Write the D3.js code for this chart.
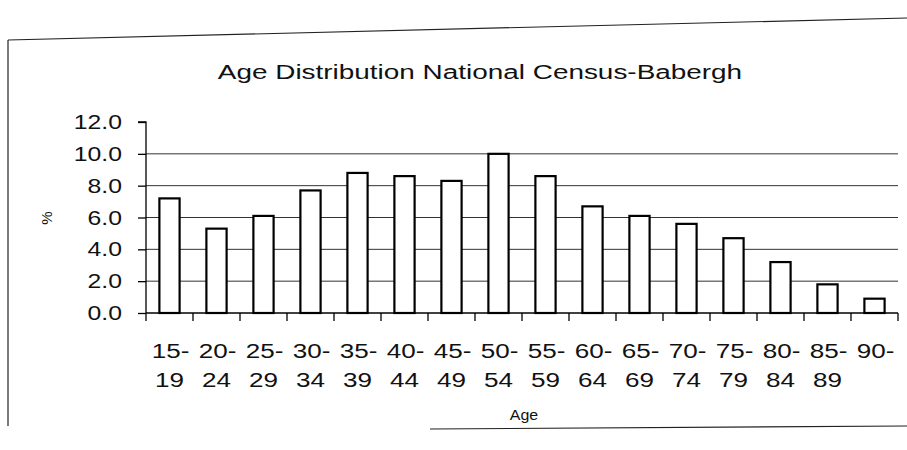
<!DOCTYPE html>
<html><head><meta charset="utf-8">
<script src="https://cdn.jsdelivr.net/npm/d3@7"></script>
<style>body{margin:0;background:#fff}svg{display:block}text{font-family:"Liberation Sans",Arial,sans-serif;fill:#111}</style>
</head><body><svg id="c" width="907" height="450"></svg>
<script>
const categories = ["15-19","20-24","25-29","30-34","35-39","40-44","45-49","50-54","55-59","60-64","65-69","70-74","75-79","80-84","85-89","90-"];
const values = [7.2,5.3,6.1,7.7,8.8,8.6,8.3,10.0,8.6,6.7,6.1,5.6,4.7,3.2,1.8,0.9];
const yTicks = [0,2,4,6,8,10,12];
const title = "Age Distribution National Census-Babergh";
const xTitle = "Age", yTitle = "%";

const svg = d3.select("#c");
const SX = 1.27;
function stretchedText(g, x0, y0, txt, size, anchor, sx){
  return g.append("g").attr("transform",`translate(${x0},${y0}) scale(${sx||SX},1)`)
    .append("text").attr("text-anchor",anchor||"middle").style("font-size",size+"px").text(txt);
}

// frame (partial, like the scanned original)
svg.append("line").attr("x1",8).attr("y1",40).attr("x2",907).attr("y2",18).attr("stroke","#222").attr("stroke-width",1.2);
svg.append("line").attr("x1",8).attr("y1",40).attr("x2",8).attr("y2",426).attr("stroke","#222").attr("stroke-width",1.2);
svg.append("line").attr("x1",430).attr("y1",429).attr("x2",907).attr("y2",426).attr("stroke","#222").attr("stroke-width",1.2);

const X0 = 146, X1 = 898;
const x = d3.scaleBand().domain(categories).range([X0,X1]).paddingInner(0.57).paddingOuter(0.285);
const y = d3.scaleLinear().domain([0,12]).range([313,122]);

// gridlines
svg.append("g").selectAll("line").data(yTicks.filter(d=>d>0&&d<12)).join("line")
  .attr("x1",X0).attr("x2",X1).attr("y1",d=>y(d)).attr("y2",d=>y(d))
  .attr("stroke","#333").attr("stroke-width",1);

// bars
svg.append("g").selectAll("rect").data(values).join("rect")
  .attr("x",(d,i)=>x(categories[i])).attr("width",x.bandwidth())
  .attr("y",d=>y(d)).attr("height",d=>y(0)-y(d))
  .attr("fill","#fff").attr("stroke","#000").attr("stroke-width",2.2);

// y axis
const ya = svg.append("g").attr("transform",`translate(${X0},0)`)
  .call(d3.axisLeft(y).tickValues(yTicks).tickFormat("").tickSize(8));
ya.select(".domain").attr("stroke","#000").attr("stroke-width",1.3).attr("d","M-8,"+y(12)+"H0V"+y(0));
ya.selectAll("line").attr("stroke","#000").attr("stroke-width",1.3);
const yl = svg.append("g");
yTicks.forEach(t=>{
  stretchedText(yl, 122, y(t)+7, d3.format(".1f")(t), 19.5, "end");
});

// x axis
const step = (X1-X0)/categories.length;
const boundaries = d3.range(categories.length+1).map(i=>X0+i*step);
const xg = svg.append("g");
xg.append("line").attr("x1",X0).attr("x2",X1).attr("y1",y(0)).attr("y2",y(0)).attr("stroke","#000").attr("stroke-width",1.3);
xg.selectAll("line.t").data(boundaries).join("line").attr("class","t")
  .attr("x1",d=>d).attr("x2",d=>d).attr("y1",y(0)).attr("y2",y(0)+8).attr("stroke","#000").attr("stroke-width",1.3);

const xl = svg.append("g");
categories.forEach(c=>{
  const parts = c.split("-");
  const cx = x(c)+x.bandwidth()/2;
  stretchedText(xl, cx+1, 358, parts[0]+"-", 20.5, "middle");
  if(parts[1]) stretchedText(xl, cx, 387, parts[1], 20.5, "middle");
});

// titles
stretchedText(svg, 480, 79, title, 21, "middle", 1.33);
stretchedText(svg, 524, 420, xTitle, 14.5, "middle", 1.1);
svg.append("text").attr("transform","translate(52,218) rotate(-90)").attr("text-anchor","middle").style("font-size","15px").text(yTitle);
</script></body></html>
